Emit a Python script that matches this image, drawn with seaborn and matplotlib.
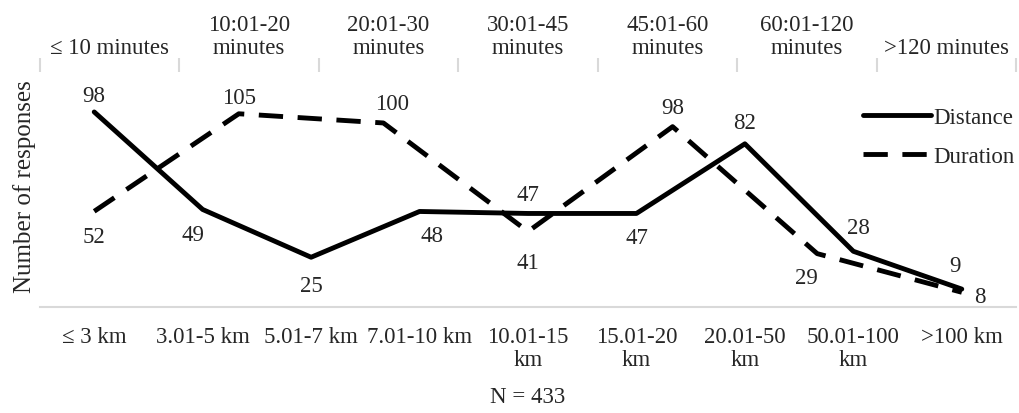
import numpy as np
import pandas as pd
import seaborn as sns
import matplotlib.pyplot as plt

distance_labels = ['≤ 3 km', '3.01-5 km', '5.01-7 km', '7.01-10 km', '10.01-15\nkm',
                   '15.01-20\nkm', '20.01-50\nkm', '50.01-100\nkm', '>100 km']
distance_counts = [98, 49, 25, 48, 47, 47, 82, 28, 9]

duration_labels = ['≤ 10 minutes', '10:01-20\nminutes', '20:01-30\nminutes', '30:01-45\nminutes',
                   '45:01-60\nminutes', '60:01-120\nminutes', '>120 minutes']
duration_counts = [52, 105, 100, 41, 98, 29, 8]

# label offsets in points (dx, dy)
dist_offsets = [(0, 12), (-7, -18), (0, -20), (9, -17), (0, 14), (0, -17), (0, 15), (4, 17), (-5, 17)]
dur_offsets = [(0, -18), (0, 12), (6, 14), (0, -22), (0, 14), (-8, -17), (13, -3)]

sns.set_style('white')
plt.rcParams['font.family'] = ['Liberation Serif', 'DejaVu Serif']
grey = '#d9d9d9'
fs = 16.5

df_dist = pd.DataFrame({'pos': np.arange(len(distance_labels)), 'count': distance_counts})
df_dur = pd.DataFrame({'pos': np.arange(len(duration_labels)), 'count': duration_counts})

fig = plt.figure(figsize=(10.19, 4.14), dpi=100)
rect = [40 / 1019, 1 - 308 / 414, 976 / 1019, 242 / 414]
ax = fig.add_axes(rect)
ax2 = fig.add_axes(rect, frameon=False)

sns.lineplot(data=df_dist, x='pos', y='count', ax=ax, color='black', lw=3.5,
             label='Distance', legend=False)
sns.lineplot(data=df_dur, x='pos', y='count', ax=ax2, color='black', lw=3.5,
             linestyle=(0, (5, 3)), label='Duration', legend=False)

n1 = len(distance_labels)
n2 = len(duration_labels)
ax.set_xlim(-0.5, n1 - 0.5)
ax.set_ylim(0, 121.6)
pad2 = 0.5 * (n2 - 1) / (n1 - 1)
ax2.set_xlim(-pad2, n2 - 1 + pad2)
ax2.set_ylim(0, 131.5)

# bottom axis
for s in ['top', 'left', 'right']:
    ax.spines[s].set_visible(False)
ax.spines['bottom'].set_color(grey)
ax.spines['bottom'].set_linewidth(1.5)
ax.set_xticks(np.arange(n1 + 1) - 0.5)
ax.set_xticklabels([])
ax.set_xticks(np.arange(n1), minor=True)
ax.set_xticklabels(distance_labels, minor=True, fontsize=fs, linespacing=1.1, va='top')
ax.tick_params(axis='x', which='major', direction='inout', length=10, width=1.5, color=grey)
ax.tick_params(axis='x', which='minor', length=0, pad=14)
ax.set_yticks([])
ax.set_xlabel('')
ax.set_ylabel('Number of responses', fontsize=18, labelpad=3)

# top axis
lo, hi = ax2.get_xlim()
edges = np.linspace(lo, hi, n2 + 1)
ax2.xaxis.tick_top()
ax2.set_xticks(edges)
ax2.set_xticklabels([])
ax2.set_xticks((edges[:-1] + edges[1:]) / 2, minor=True)
ax2.set_xticklabels(duration_labels, minor=True, fontsize=fs, linespacing=1.15)
ax2.tick_params(axis='x', which='major', top=True, bottom=False, direction='inout',
                length=10, width=1.5, color=grey)
ax2.tick_params(axis='x', which='minor', top=True, bottom=False, length=0, pad=5)
ax2.set_xlim(lo, hi)
ax2.spines['top'].set_visible(True)
ax2.spines['top'].set_color(grey)
ax2.spines['top'].set_linewidth(1.5)
ax2.set_yticks([])
ax2.set_xlabel('')
ax2.set_ylabel('')

for i, v in enumerate(distance_counts):
    ax.annotate(str(v), (i, v), xytext=dist_offsets[i], textcoords='offset points',
                ha='center', va='center', fontsize=fs)
for i, v in enumerate(duration_counts):
    ax2.annotate(str(v), (i, v), xytext=dur_offsets[i], textcoords='offset points',
                 ha='center', va='center', fontsize=fs)

h1, l1 = ax.get_legend_handles_labels()
h2, l2 = ax2.get_legend_handles_labels()
ax2.legend(h1 + h2, l1 + l2, loc='upper right', bbox_to_anchor=(1.02, 0.91), frameon=False,
           fontsize=fs, handlelength=3.0, handletextpad=0.1, labelspacing=0.75)

fig.text(rect[0] + rect[2] / 2, 16 / 414, 'N = 433', ha='center', va='center', fontsize=fs)

fig.savefig('out.png', dpi=100)
